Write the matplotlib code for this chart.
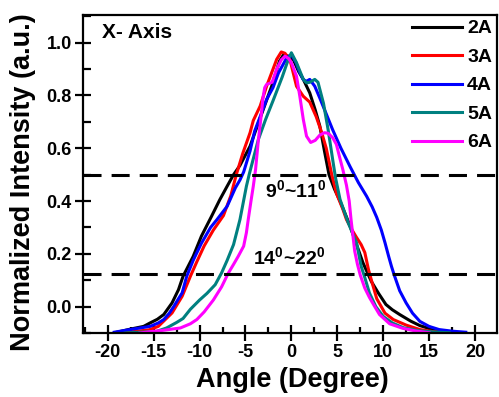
import matplotlib
matplotlib.use("Agg")
import matplotlib.pyplot as plt
from matplotlib.ticker import MultipleLocator

plt.rcParams['font.family'] = ['Liberation Sans', 'DejaVu Sans']
plt.rcParams['font.weight'] = 'bold'
plt.rcParams['mathtext.fontset'] = 'custom'
plt.rcParams['mathtext.rm'] = 'Liberation Sans:bold'
plt.rcParams['mathtext.bf'] = 'Liberation Sans:bold'

labels = ["2A", "3A", "4A", "5A", "6A"]
colors = ["#000000", "#ff0000", "#0000ff", "#008080", "#ff00ff"]

x_2A = [-19.0, -17.5, -16.1, -15.4, -14.6, -13.9, -13.0, -12.3, -11.8, -10.7, -9.8, -8.7, -7.8, -7.0,
        -6.3, -5.6, -4.5, -3.2, -2.15, -1.3, -0.9, -0.4, 0.2, 0.8, 1.3, 2.0, 2.6, 3.1, 3.6, 4.1, 4.7,
        5.3, 6.4, 7.1, 7.8, 8.7, 9.5, 10.3, 11.0, 11.8, 13.0, 14.0, 15.4, 17.0]
y_2A = [-0.097, -0.085, -0.075, -0.062, -0.048, -0.03, 0.014, 0.064, 0.115, 0.19, 0.267, 0.342, 0.405, 0.456,
        0.5, 0.535, 0.608, 0.734, 0.835, 0.93, 0.952, 0.95, 0.937, 0.89, 0.861, 0.81, 0.745, 0.684, 0.59, 0.5, 0.445,
        0.4, 0.305, 0.235, 0.166, 0.096, 0.05, 0.008, -0.012, -0.03, -0.055, -0.072, -0.087, -0.096]

x_3A = [-18.5, -17.0, -15.5, -14.5, -13.0, -11.9, -11.0, -10.3, -9.5, -8.5, -7.4, -6.6, -6.0, -5.3, -4.5,
        -4.15, -3.4, -2.7, -2.0, -1.6, -1.1, -0.7, -0.15, 0.56, 1.3, 2.0, 2.7, 3.3, 3.8, 4.4, 4.9,
        5.6, 6.0, 6.7, 7.1, 7.6, 8.0, 8.4, 8.8, 9.3, 10.2, 11.1, 12.5, 14.0, 15.5, 17.0]
y_3A = [-0.099, -0.094, -0.088, -0.075, -0.024, 0.039, 0.115, 0.17, 0.23, 0.29, 0.345, 0.42, 0.5, 0.58, 0.659,
        0.705, 0.76, 0.835, 0.9, 0.937, 0.965, 0.96, 0.935, 0.835, 0.797, 0.775, 0.72, 0.66, 0.6, 0.5, 0.43,
        0.37, 0.33, 0.285, 0.262, 0.235, 0.205, 0.14, 0.09, 0.03, -0.025, -0.049, -0.07, -0.087, -0.095, -0.099]

x_4A = [-19.3, -17.6, -16.5, -15.4, -14.5, -13.9, -13.3, -12.8, -12.3, -11.9, -11.4, -10.7, -9.8, -8.8,
        -8.1, -7.0, -6.1, -5.6, -5.2, -4.5, -4.0, -3.4, -2.7, -2.0, -1.4, -0.5, 0.0, 0.5, 0.92, 1.3, 1.65,
        2.0, 2.55, 3.1, 3.8, 4.5, 5.4, 6.4, 7.3, 8.2, 8.8, 9.3, 9.8, 10.2, 10.6, 10.9, 11.2, 11.8, 12.5, 13.2,
        14.0, 15.0, 16.1, 17.5, 19.0]
y_4A = [-0.097, -0.087, -0.081, -0.075, -0.062, -0.049, -0.025, 0.001, 0.03, 0.052, 0.115, 0.175, 0.24, 0.3,
        0.33, 0.38, 0.45, 0.48, 0.51, 0.59, 0.665, 0.72, 0.785, 0.83, 0.886, 0.943, 0.955, 0.925, 0.886, 0.86,
        0.854, 0.861, 0.835, 0.79, 0.73, 0.67, 0.6, 0.53, 0.47, 0.418, 0.378, 0.338, 0.29, 0.242, 0.19, 0.153,
        0.12, 0.06, 0.014, -0.025, -0.056, -0.075, -0.087, -0.093, -0.097]

x_5A = [-18.1, -16.5, -14.7, -13.6, -12.5, -11.8, -11.0, -10.0, -9.2, -8.3, -7.6, -7.0, -6.3, -5.6, -4.9,
        -4.6, -4.15, -3.6, -2.8, -2.0, -1.0, -0.4, 0.0, 0.56, 1.3, 1.65, 2.0, 2.55, 2.9, 3.2, 3.5, 4.0, 4.5,
        4.8, 5.3, 6.2, 7.1, 7.6, 8.0, 8.5, 9.2, 10.0, 11.0, 12.2, 14.0, 16.0, 17.2]
y_5A = [-0.1, -0.097, -0.094, -0.081, -0.06, -0.045, -0.01, 0.025, 0.05, 0.083, 0.128, 0.175, 0.235, 0.33,
        0.456, 0.5, 0.56, 0.633, 0.71, 0.78, 0.87, 0.93, 0.962, 0.924, 0.861, 0.848, 0.85, 0.861, 0.85, 0.81,
        0.77, 0.671, 0.557, 0.49, 0.406, 0.317, 0.242, 0.153, 0.11, 0.052, 0.0, -0.037, -0.062, -0.08, -0.092,
        -0.097, -0.099]

x_6A = [-16.5, -15.4, -14.0, -12.1, -11.0, -10.3, -9.5, -8.5, -7.6, -6.9, -6.3, -5.8, -5.2, -4.9, -4.7,
        -4.4, -4.15, -3.9, -3.6, -3.3, -3.1, -2.9, -2.7, -2.4, -2.1, -1.6, -1.1, -0.7, -0.3, 0.0, 0.56, 0.92,
        1.3, 1.65, 2.1, 2.6, 3.1, 3.6, 4.0, 4.5, 4.9, 5.3, 5.6, 6.0, 6.3, 6.5, 6.7, 6.9, 7.2, 7.5, 8.0, 8.5,
        9.0, 9.6, 10.7, 12.1, 13.5, 15.0]
y_6A = [-0.1, -0.095, -0.09, -0.081, -0.065, -0.049, -0.02, 0.025, 0.075, 0.125, 0.16, 0.19, 0.229, 0.28,
        0.33, 0.4, 0.456, 0.52, 0.63, 0.72, 0.79, 0.83, 0.842, 0.846, 0.85, 0.9, 0.935, 0.949, 0.94, 0.924,
        0.873, 0.797, 0.709, 0.646, 0.622, 0.63, 0.65, 0.659, 0.657, 0.64, 0.615, 0.56, 0.52, 0.46, 0.4, 0.33,
        0.27, 0.21, 0.16, 0.12, 0.07, 0.035, 0.005, -0.03, -0.065, -0.082, -0.092, -0.099]

xs = [x_2A, x_3A, x_4A, x_5A, x_6A]
ys = [y_2A, y_3A, y_4A, y_5A, y_6A]

hlines = [0.5, 0.125]
annotations = [(-2.9, 0.413, r"9$^{0}$~11$^{0}$"), (-4.2, 0.159, r"14$^{0}$~22$^{0}$")]

fig = plt.figure(figsize=(4.99, 3.97), dpi=100)
ax = fig.add_axes([83 / 499, 1 - 333 / 397, (497 - 83) / 499, (333 - 15) / 397])

for x, y, c, lab in zip(xs, ys, colors, labels):
    ax.plot(x, y, color=c, lw=2.2, label=lab, solid_joinstyle='round')

for h in hlines:
    ax.axhline(h, color='black', lw=2.2, linestyle=(0, (5.9, 3.3)))

for tx, ty, s in annotations:
    ax.text(tx, ty, s, fontsize=14, fontweight='bold', ha='left', va='baseline')

ax.text(-20.6, 1.04, "X- Axis", fontsize=15, fontweight='bold', ha='left', va='center')

ax.set_xlim(-22.7, 22.4)
ax.set_ylim(-0.1, 1.105)
ax.xaxis.set_major_locator(MultipleLocator(5))
ax.xaxis.set_minor_locator(MultipleLocator(2.5))
ax.yaxis.set_major_locator(MultipleLocator(0.2))
ax.yaxis.set_minor_locator(MultipleLocator(0.1))
ax.set_yticks([0.0, 0.2, 0.4, 0.6, 0.8, 1.0])
ax.set_yticklabels(["0.0", "0.2", "0.4", "0.6", "0.8", "1.0"])
ax.set_xticks([-20, -15, -10, -5, 0, 5, 10, 15, 20])
ax.set_xticklabels(["-20", "-15", "-10", "-5", "0", "5", "10", "15", "20"])

for sp in ax.spines.values():
    sp.set_linewidth(1.6)
ax.tick_params(which='major', direction='inout', length=12, width=1.6, labelsize=13, pad=2)
ax.tick_params(axis='x', which='minor', direction='in', length=4, width=1.6)
ax.tick_params(axis='y', which='minor', direction='in', length=6, width=1.6)
ax.tick_params(top=False, right=False, which='both')

ax.set_xlabel("Angle (Degree)", fontsize=19.5, fontweight='bold', va='center')
ax.set_ylabel("Normalized Intensity (a.u.)", fontsize=19.5, fontweight='bold', va='center')
ax.xaxis.set_label_coords(0.505, -0.148)
ax.yaxis.set_label_coords(-0.144, 0.476)

leg = ax.legend(loc='upper right', frameon=False, fontsize=14, handlelength=2.6,
                handletextpad=0.26, labelspacing=0.56, borderaxespad=0.1, borderpad=0.15)
for t in leg.get_texts():
    t.set_fontweight('bold')

fig.savefig("out.png", dpi=100)
